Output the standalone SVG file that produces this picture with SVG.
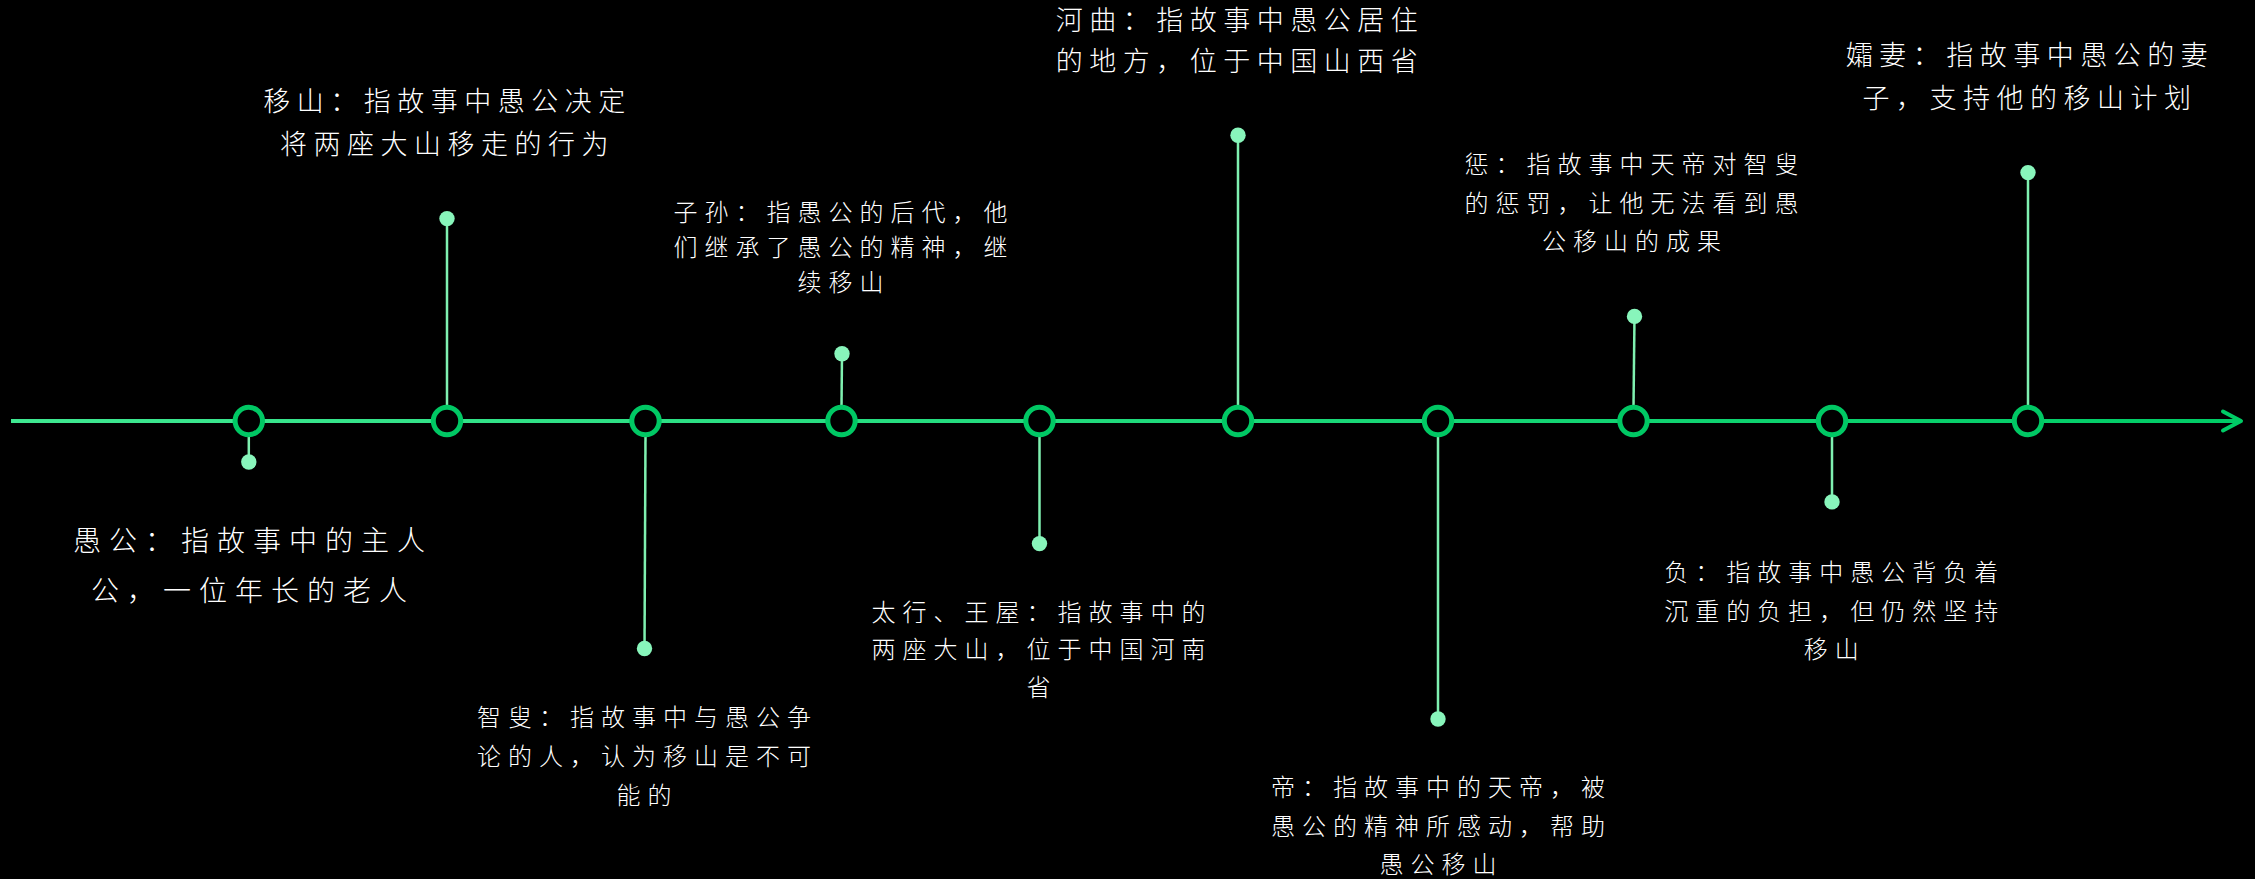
<svg xmlns="http://www.w3.org/2000/svg" width="2255" height="879" viewBox="0 0 2255 879">
<defs>
<linearGradient id="axisGrad" gradientUnits="userSpaceOnUse" x1="11" y1="421" x2="2241" y2="421">
<stop offset="0" stop-color="#3fe891"/>
<stop offset="1" stop-color="#00cc66"/>
</linearGradient>
<style>
.lbl{font-family:"Noto Sans CJK SC","Noto Sans",sans-serif;font-weight:300;fill:#ffffff;text-anchor:middle}
.big{font-size:27px;letter-spacing:6.5px}
.big1{font-size:28px;letter-spacing:8px}
.sm{font-size:24px;letter-spacing:7px}
.node{fill:#000000;stroke:#00c864;stroke-width:5}
.stem{stroke:#7ff0b0;stroke-width:2.5;fill:none}
.dot{fill:#88f5bb}
</style>
</defs>
<rect width="2255" height="879" fill="#000000"/>
<g id="connectors">
<line x1="11" y1="421" x2="2240" y2="421" stroke="url(#axisGrad)" stroke-width="4"/>
<polyline points="2223,411.5 2241,421 2223,430.5" fill="none" stroke="#00cc66" stroke-width="4" stroke-linecap="round" stroke-linejoin="round"/>
<line class="stem" x1="248.8" y1="435" x2="248.8" y2="462"/>
<line class="stem" x1="447" y1="407" x2="447" y2="218.6"/>
<line class="stem" x1="645.5" y1="435" x2="644.5" y2="648.5"/>
<line class="stem" x1="841.5" y1="407" x2="842" y2="353.7"/>
<line class="stem" x1="1039.5" y1="435" x2="1039.5" y2="543.6"/>
<line class="stem" x1="1238" y1="407" x2="1238" y2="135.2"/>
<line class="stem" x1="1438" y1="435" x2="1438" y2="719"/>
<line class="stem" x1="1633.5" y1="407" x2="1634.5" y2="316.4"/>
<line class="stem" x1="1832" y1="435" x2="1832" y2="501.9"/>
<line class="stem" x1="2028" y1="407" x2="2028" y2="172.6"/>
</g>
<g id="n1"><circle class="node" cx="248.8" cy="421" r="13.7"/><circle class="dot" cx="248.8" cy="462" r="7.7"/>
<text class="lbl big1" x="253" y="551">愚公：指故事中的主人</text><text class="lbl big1" x="253" y="601">公，一位年长的老人</text></g>
<g id="n2"><circle class="node" cx="447" cy="421" r="13.7"/><circle class="dot" cx="447" cy="218.6" r="7.7"/>
<text class="lbl big" x="447.5" y="111">移山：指故事中愚公决定</text><text class="lbl big" x="447.5" y="154">将两座大山移走的行为</text></g>
<g id="n3"><circle class="node" cx="645.5" cy="421" r="13.7"/><circle class="dot" cx="644.5" cy="648.5" r="7.7"/>
<text class="lbl sm" x="647.5" y="726">智叟：指故事中与愚公争</text><text class="lbl sm" x="647.5" y="765">论的人，认为移山是不可</text><text class="lbl sm" x="647.5" y="804">能的</text></g>
<g id="n4"><circle class="node" cx="841.5" cy="421" r="13.7"/><circle class="dot" cx="842" cy="353.7" r="7.7"/>
<text class="lbl sm" x="844" y="221">子孙：指愚公的后代，他</text><text class="lbl sm" x="844" y="256">们继承了愚公的精神，继</text><text class="lbl sm" x="844" y="291">续移山</text></g>
<g id="n5"><circle class="node" cx="1039.5" cy="421" r="13.7"/><circle class="dot" cx="1039.5" cy="543.6" r="7.7"/>
<text class="lbl sm" x="1042" y="621">太行、王屋：指故事中的</text><text class="lbl sm" x="1042" y="658">两座大山，位于中国河南</text><text class="lbl sm" x="1042" y="696">省</text></g>
<g id="n6"><circle class="node" cx="1238" cy="421" r="13.7"/><circle class="dot" cx="1238" cy="135.2" r="7.7"/>
<text class="lbl big" x="1240" y="30">河曲：指故事中愚公居住</text><text class="lbl big" x="1240" y="71">的地方，位于中国山西省</text></g>
<g id="n7"><circle class="node" cx="1438" cy="421" r="13.7"/><circle class="dot" cx="1438" cy="719" r="7.7"/>
<text class="lbl sm" x="1441.5" y="796">帝：指故事中的天帝，被</text><text class="lbl sm" x="1441.5" y="835">愚公的精神所感动，帮助</text><text class="lbl sm" x="1441.5" y="873">愚公移山</text></g>
<g id="n8"><circle class="node" cx="1633.5" cy="421" r="13.7"/><circle class="dot" cx="1634.5" cy="316.4" r="7.7"/>
<text class="lbl sm" x="1635" y="173">惩：指故事中天帝对智叟</text><text class="lbl sm" x="1635" y="212">的惩罚，让他无法看到愚</text><text class="lbl sm" x="1635" y="250">公移山的成果</text></g>
<g id="n9"><circle class="node" cx="1832" cy="421" r="13.7"/><circle class="dot" cx="1832" cy="501.9" r="7.7"/>
<text class="lbl sm" x="1834.8" y="581">负：指故事中愚公背负着</text><text class="lbl sm" x="1834.8" y="620">沉重的负担，但仍然坚持</text><text class="lbl sm" x="1834.8" y="658">移山</text></g>
<g id="n10"><circle class="node" cx="2028" cy="421" r="13.7"/><circle class="dot" cx="2028" cy="172.6" r="7.7"/>
<text class="lbl big" x="2030" y="65">孀妻：指故事中愚公的妻</text><text class="lbl big" x="2030" y="108">子，支持他的移山计划</text></g>
</svg>
